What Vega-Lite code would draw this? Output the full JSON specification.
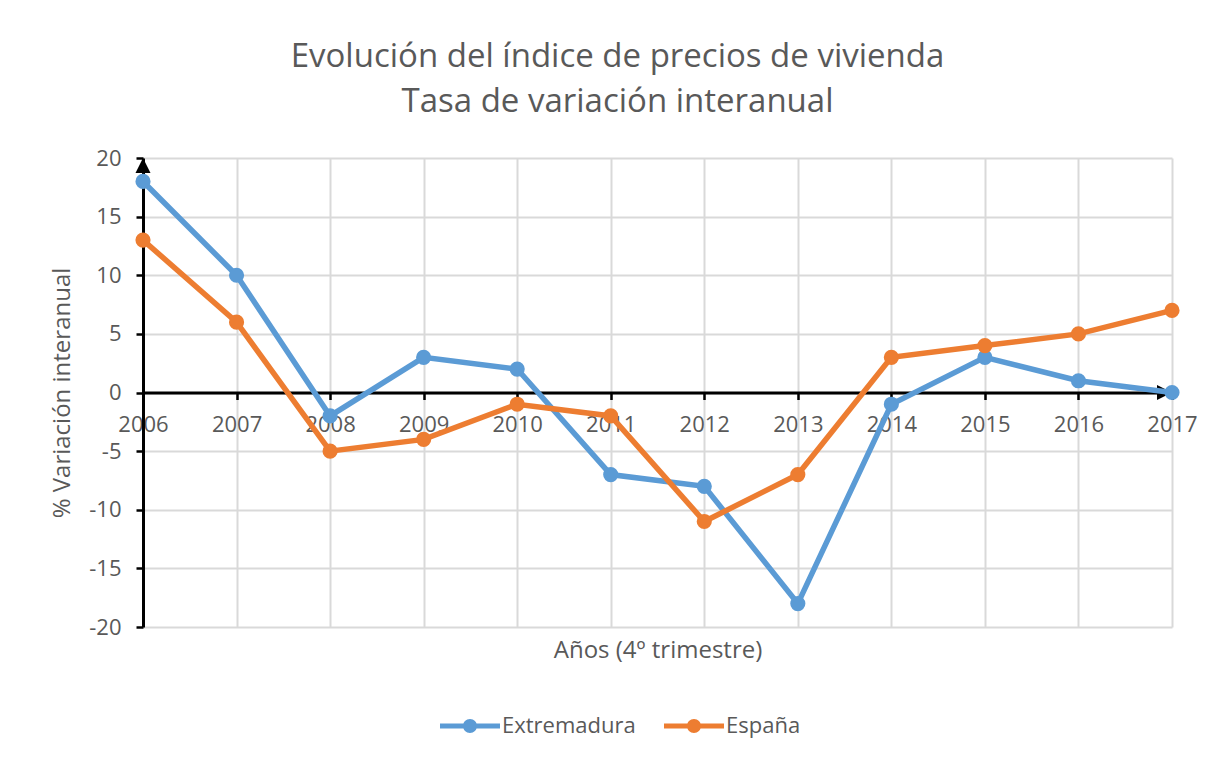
{
  "$schema": "https://vega.github.io/schema/vega-lite/v6.json",
  "width": 1029,
  "height": 469,
  "autosize": "none",
  "padding": {"left": 143, "top": 158, "right": 59, "bottom": 135},
  "background": "white",
  "title": {
    "text": ["Evolución del índice de precios de vivienda", "Tasa de variación interanual"],
    "anchor": "middle",
    "frame": "group",
    "fontSize": 33,
    "font": "Open Sans",
    "fontWeight": "normal",
    "color": "#595959",
    "lineHeight": 45,
    "offset": 28,
    "dx": -40
  },
  "config": {
    "view": {"stroke": null},
    "font": "Open Sans",
    "axis": {
      "labelFont": "Open Sans",
      "titleFont": "Open Sans",
      "labelColor": "#595959",
      "titleColor": "#595959",
      "labelFontSize": 22,
      "titleFontSize": 24,
      "titleFontWeight": "normal",
      "gridColor": "#d9d9d9",
      "gridWidth": 2,
      "domainColor": "black",
      "domainWidth": 3,
      "tickColor": "black",
      "tickWidth": 2.5,
      "tickSize": 7
    }
  },
  "datasets": {
    "series": [
      {"year": 2006, "serie": "Extremadura", "value": 18},
      {"year": 2007, "serie": "Extremadura", "value": 10},
      {"year": 2008, "serie": "Extremadura", "value": -2},
      {"year": 2009, "serie": "Extremadura", "value": 3},
      {"year": 2010, "serie": "Extremadura", "value": 2},
      {"year": 2011, "serie": "Extremadura", "value": -7},
      {"year": 2012, "serie": "Extremadura", "value": -8},
      {"year": 2013, "serie": "Extremadura", "value": -18},
      {"year": 2014, "serie": "Extremadura", "value": -1},
      {"year": 2015, "serie": "Extremadura", "value": 3},
      {"year": 2016, "serie": "Extremadura", "value": 1},
      {"year": 2017, "serie": "Extremadura", "value": 0},
      {"year": 2006, "serie": "España", "value": 13},
      {"year": 2007, "serie": "España", "value": 6},
      {"year": 2008, "serie": "España", "value": -5},
      {"year": 2009, "serie": "España", "value": -4},
      {"year": 2010, "serie": "España", "value": -1},
      {"year": 2011, "serie": "España", "value": -2},
      {"year": 2012, "serie": "España", "value": -11},
      {"year": 2013, "serie": "España", "value": -7},
      {"year": 2014, "serie": "España", "value": 3},
      {"year": 2015, "serie": "España", "value": 4},
      {"year": 2016, "serie": "España", "value": 5},
      {"year": 2017, "serie": "España", "value": 7}
    ],
    "arrows": [
      {"year": 2006, "value": 20, "dir": "up"},
      {"year": 2017, "value": 0, "dir": "right"}
    ]
  },
  "layer": [
    {
      "data": {"name": "arrows"},
      "mark": {"type": "point", "filled": true, "color": "black", "opacity": 1, "size": 900},
      "encoding": {
        "x": {"field": "year", "type": "quantitative", "scale": {"domain": [2006, 2017], "nice": false, "zero": false},
          "axis": {"offset": -234.5, "values": [2006,2007,2008,2009,2010,2011,2012,2013,2014,2015,2016,2017], "labelExpr": "'' + datum.value", "grid": false, "labelPadding": 15, "title": "Años (4º trimestre)", "titleY": 258, "titleBaseline": "middle", "labelFlush": false}},
        "y": {"field": "value", "type": "quantitative", "scale": {"domain": [-20, 20], "nice": false, "zero": false}},
        "shape": {"field": "dir", "type": "nominal", "scale": {"domain": ["up", "right"], "range": ["M0,0L0.5,1L-0.5,1Z", "M0,0L-1,-0.5L-1,0.5Z"]}, "legend": null}
      }
    },
    {
      "data": {"name": "series"},
      "mark": {"type": "line", "strokeWidth": 5.5, "point": {"filled": true, "size": 230, "opacity": 1}},
      "encoding": {
        "x": {"field": "year", "type": "quantitative", "scale": {"domain": [2006, 2017], "nice": false, "zero": false},
          "axis": {"values": [2006,2007,2008,2009,2010,2011,2012,2013,2014,2015,2016,2017], "grid": true, "labels": false, "ticks": false, "domain": false, "title": null}},
        "y": {"field": "value", "type": "quantitative", "scale": {"domain": [-20, 20], "nice": false, "zero": false},
          "axis": {"values": [-20,-15,-10,-5,0,5,10,15,20], "labelExpr": "'' + datum.value", "grid": true, "labelPadding": 15, "title": "% Variación interanual", "titlePadding": 14}},
        "color": {
          "field": "serie", "type": "nominal",
          "scale": {"domain": ["Extremadura", "España"], "range": ["#5B9BD5", "#ED7D31"]},
          "legend": {
            "title": null,
            "orient": "none",
            "direction": "horizontal",
            "legendX": 307,
            "legendY": 548,
            "symbolType": "M-1.5,-0.12L1.5,-0.12L1.5,0.12L-1.5,0.12Z M-0.35,0A0.35,0.35 0 1,1 0.35,0A0.35,0.35 0 1,1 -0.35,0Z",
            "symbolSize": 1600,
            "symbolStrokeWidth": 0,
            "labelOffset": 12,
            "labelFontSize": 22,
            "labelFont": "Open Sans",
            "labelColor": "#595959",
            "columnPadding": 28,
            "encode": {"symbols": {"update": {"fill": {"scale": "color", "field": "value"}, "strokeWidth": {"value": 0}}}}
          }
        }
      }
    }
  ],
  "resolve": {"axis": {"x": "independent"}}
}
